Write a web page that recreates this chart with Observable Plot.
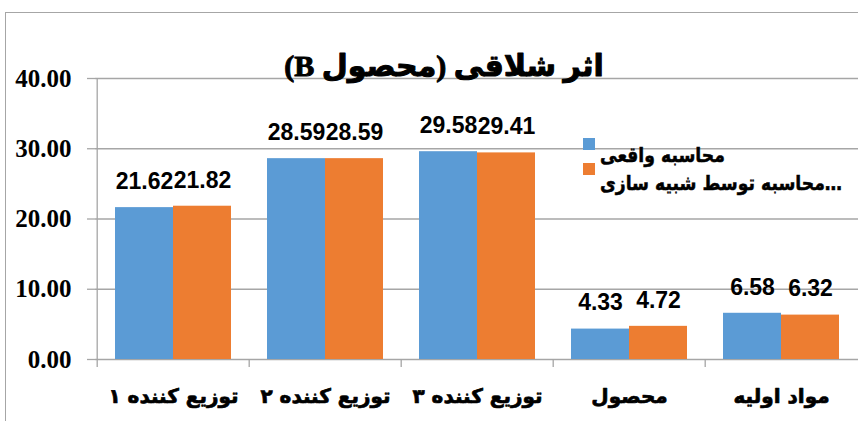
<!DOCTYPE html>
<html><head><meta charset="utf-8">
<script src="https://cdn.jsdelivr.net/npm/d3@7"></script>
<script src="https://cdn.jsdelivr.net/npm/@observablehq/plot@0.6"></script>
<style>
html,body{margin:0;padding:0;background:#fff;}
#wrap{position:relative;width:858px;height:421px;overflow:hidden;}
#frame{position:absolute;left:5px;top:12px;width:900px;height:500px;border:1.5px solid #a6a6a6;box-sizing:border-box;}
#chart{position:absolute;left:0;top:0;}
#legend{position:absolute;left:583px;top:130px;width:275px;height:80px;font-family:"DejaVu Sans";font-weight:bold;font-size:20px;color:#000;}
#legend .sw{position:absolute;left:0;width:12px;height:12px;}
#legend .lb{position:absolute;left:17px;white-space:nowrap;line-height:28px;transform:scaleX(0.86);transform-origin:0 50%;-webkit-text-stroke:0.5px #000;}
</style></head><body>
<div id="wrap"><div id="frame"></div><div id="chart"></div><div id="legend"></div></div>
<script>
const categories = ["توزیع کننده ۱", "توزیع کننده ۲", "توزیع کننده ۳", "محصول", "مواد اولیه"];
const seriesNames = ["محاسبه واقعی", "محاسبه توسط شبیه سازی…"];
const actualValues = [21.62, 28.59, 29.58, 4.33, 6.58];
const simulatedValues = [21.82, 28.59, 29.41, 4.72, 6.32];
const yTicks = [0, 10, 20, 30, 40];
const chartTitle = "اثر شلاقی (محصول B)";
const colors = ["#5B9BD5", "#ED7D31"];

const actual = categories.map((c, i) => ({cat: c, value: actualValues[i]}));
const simulated = categories.map((c, i) => ({cat: c, value: simulatedValues[i]}));

const half = 58;
const halfStep = 76.3;
const gridColor = "#a6a6a6";
const labelFont = {fontFamily: "Liberation Sans, Arial, sans-serif", fontWeight: "bold", fontSize: 23, fill: "#000"};

const plot = Plot.plot({
  width: 858, height: 421,
  marginLeft: 95, marginRight: 0, marginTop: 78, marginBottom: 62,
  x: {domain: categories, paddingInner: 0.24, paddingOuter: 0.12, label: null},
  y: {domain: [0, 40], label: null},
  style: {background: "transparent", overflow: "visible"},
  marks: [
    Plot.ruleY(yTicks, {y: d => d, stroke: gridColor, strokeWidth: 1.3}),
    Plot.axisX({tickSize: 8, tickFormat: () => "", dx: -halfStep, stroke: gridColor, strokeWidth: 1.3, label: null}),
    Plot.axisY({ticks: yTicks, tickSize: 8, tickFormat: () => "", stroke: gridColor, strokeWidth: 1.3, label: null}),
    Plot.ruleX(categories.slice(0, 1), {x: d => d, y1: 0, y2: 40, dx: -halfStep, stroke: gridColor, strokeWidth: 1.3}),
    Plot.barY(actual, {x: "cat", y: "value", fill: colors[0], insetRight: half}),
    Plot.barY(simulated, {x: "cat", y: "value", fill: colors[1], insetLeft: half}),
    Plot.text(actual, {x: "cat", y: "value", text: d => d.value.toFixed(2), dx: -29, dy: -26, ...labelFont}),
    Plot.text(simulated, {x: "cat", y: "value", text: d => d.value.toFixed(2), dx: 29, dy: -26, ...labelFont}),
    Plot.text(yTicks, {y: d => d, text: d => d.toFixed(2), frameAnchor: "left", dx: -24, textAnchor: "end", lineAnchor: "middle",
      fontFamily: "Liberation Serif, serif", fontWeight: "bold", fontSize: 25, fill: "#000"}),
    Plot.text(categories, {x: d => d, text: d => d, frameAnchor: "bottom", lineAnchor: "middle", dy: 37,
      fontFamily: "DejaVu Sans", fontWeight: "bold", fontSize: 20, fill: "#000", stroke: "#000", strokeWidth: 0.7}),
    Plot.text([chartTitle], {text: d => "\u202B" + d + "\u202C", frameAnchor: "top", lineAnchor: "middle", dx: -33, dy: -12,
      fontFamily: "Liberation Serif, DejaVu Sans, serif", fontWeight: "bold", fontSize: 30, fill: "#000", stroke: "#000", strokeWidth: 1})
  ]
});
document.getElementById("chart").appendChild(plot);

const legend = d3.select("#legend");
seriesNames.forEach((name, i) => {
  legend.append("div").attr("class", "sw").style("top", (8 + i * 25) + "px").style("background", colors[i]);
  legend.append("div").attr("class", "lb").style("top", (11 + i * 28) + "px").text(name);
});
</script>
</body></html>
